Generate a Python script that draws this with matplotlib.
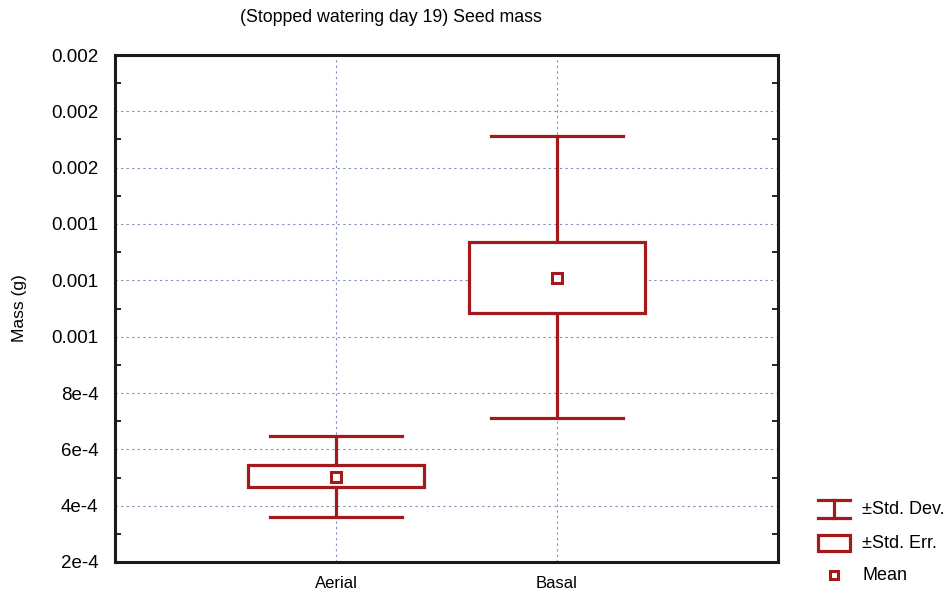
import matplotlib
matplotlib.use("Agg")
import matplotlib.pyplot as plt
import matplotlib.patches as mpatches
from matplotlib.ticker import FixedLocator, MultipleLocator

plt.rcParams['font.family'] = ['Liberation Sans', 'DejaVu Sans']

# data
groups = ['Aerial', 'Basal']
means = [5.02e-4, 1.209e-3]
se_low = [4.68e-4, 1.085e-3]
se_high = [5.45e-4, 1.337e-3]
sd_low = [3.60e-4, 7.12e-4]
sd_high = [6.48e-4, 1.713e-3]

yticks = [2e-4, 4e-4, 6e-4, 8e-4, 1e-3, 1.2e-3, 1.4e-3, 1.6e-3, 1.8e-3, 2e-3]
ytick_labels = ['2e-4', '4e-4', '6e-4', '8e-4', '0.001', '0.001', '0.001',
                '0.002', '0.002', '0.002']

RED = '#a3191c'
GRID = '#7f8fb8'
LW = 2.3

fig = plt.figure(figsize=(9.52, 5.98), dpi=100)
ax = fig.add_axes([115/952, 36/598, 663/952, 507/598])

xs = [1, 2]
cap_half = 0.3
box_half = 0.4
for x, m, sl, sh, dl, dh in zip(xs, means, se_low, se_high, sd_low, sd_high):
    # whiskers (std dev)
    ax.plot([x, x], [sh, dh], color=RED, lw=LW, zorder=3, solid_capstyle='butt')
    ax.plot([x, x], [dl, sl], color=RED, lw=LW, zorder=3, solid_capstyle='butt')
    ax.plot([x - cap_half, x + cap_half], [dh, dh], color=RED, lw=LW, zorder=3)
    ax.plot([x - cap_half, x + cap_half], [dl, dl], color=RED, lw=LW, zorder=3)
    # std err box
    ax.add_patch(mpatches.Rectangle((x - box_half, sl), 2 * box_half, sh - sl,
                                    facecolor='white', edgecolor=RED, lw=LW, zorder=3))
    # mean
    ax.plot([x], [m], marker='s', ms=7, mfc='white', mec=RED, mew=2.2, zorder=4)

ax.set_xlim(0, 3)
ax.set_ylim(2e-4, 2e-3)
ax.set_xticks(xs)
ax.set_xticklabels(groups, fontsize=12)
ax.yaxis.set_major_locator(FixedLocator(yticks))
ax.set_yticklabels(ytick_labels, fontsize=13.5)
ax.yaxis.set_minor_locator(MultipleLocator(1e-4))
ax.tick_params(axis='x', which='major', length=0, pad=10)
ax.tick_params(axis='y', which='major', length=0, pad=12)
ax.tick_params(axis='y', which='minor', direction='in', length=4, width=1.2,
               left=True, right=True)
ax.grid(True, which='major', color=GRID, linestyle=(0, (2, 3)), linewidth=0.8)
ax.set_axisbelow(True)
for sp in ax.spines.values():
    sp.set_linewidth(2.2)
    sp.set_color('#1a1a1a')

ax.set_ylabel('Mass (g)', fontsize=12.5, labelpad=17)
fig.text(391/952, 1 - 17/598, '(Stopped watering day 19) Seed mass',
         ha='center', va='center', fontsize=12.8)

# legend drawn in its own axes
lax = fig.add_axes([810/952, 0, 142/952, 110/598])
lax.set_xlim(0, 142)
lax.set_ylim(110, 0)
lax.axis('off')
# std dev icon
lax.plot([8, 40], [12, 12], color=RED, lw=LW)
lax.plot([8, 40], [30, 30], color=RED, lw=LW)
lax.plot([24, 24], [12, 30], color=RED, lw=LW)
lax.text(52, 21, '±Std. Dev.', va='center', ha='left', fontsize=13)
lax.add_patch(mpatches.Rectangle((8, 47), 32, 16, facecolor='white',
                                 edgecolor=RED, lw=LW))
lax.text(52, 55, '±Std. Err.', va='center', ha='left', fontsize=13)
lax.plot([24], [87], marker='s', ms=6, mfc='white', mec=RED, mew=2.2)
lax.text(52, 87, 'Mean', va='center', ha='left', fontsize=13)

fig.savefig('out.png', dpi=100)
